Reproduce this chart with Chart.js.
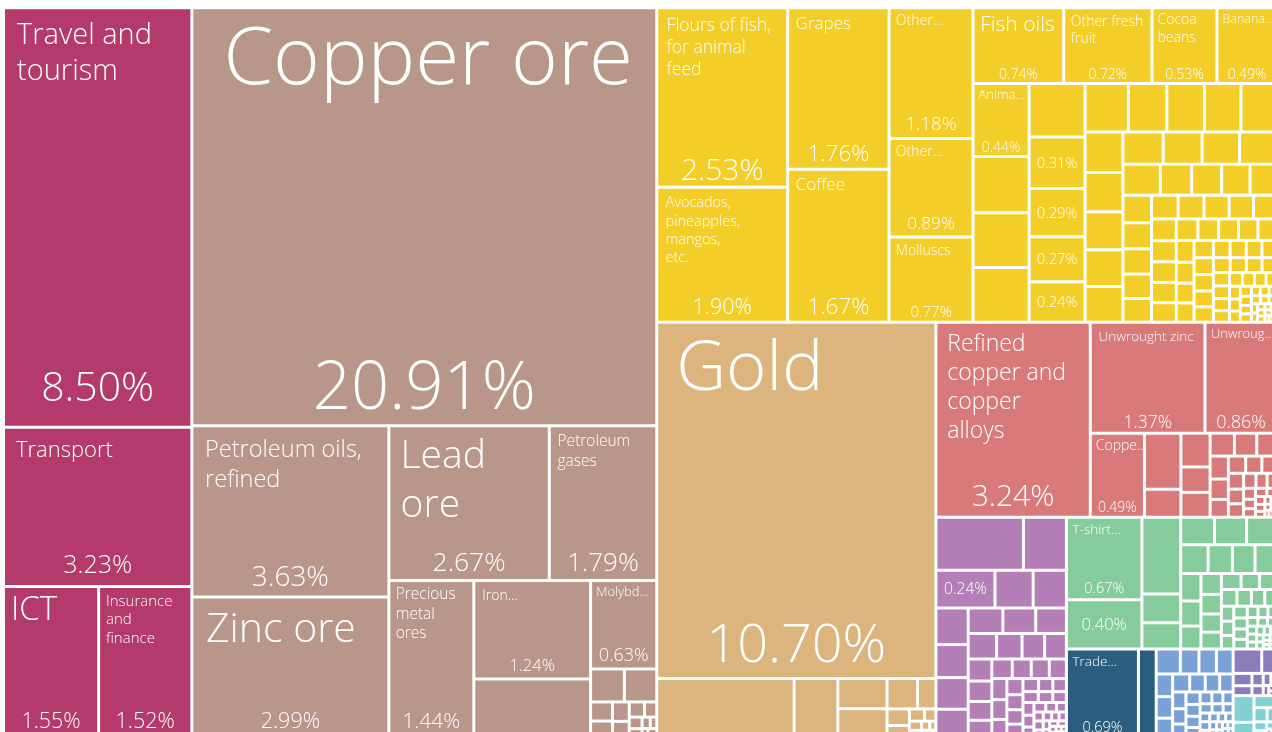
<!DOCTYPE html>
<html>
<head>
<meta charset="utf-8">
<script src="https://cdn.jsdelivr.net/npm/chart.js@4.4.1/dist/chart.umd.min.js"></script>
<style>
  html, body { margin: 0; padding: 0; background: #ffffff; }
  #wrap { width: 1272px; height: 732px; position: relative; }
</style>
</head>
<body>
<div id="wrap"><canvas id="c"></canvas></div>
<script>
// ---------------- DATA (share of exports, %) ----------------
const servicesNames = ['Travel and tourism', 'Transport', 'ICT', 'Insurance and finance'];
const servicesValues = [8.50, 3.23, 1.55, 1.52];

const mineralNames = ['Copper ore', 'Petroleum oils, refined', 'Zinc ore', 'Lead ore', 'Petroleum gases',
  'Precious metal ores', 'Iron...', null, 'Molybd...'];
const mineralValues = [20.91, 3.63, 2.99, 2.67, 1.79, 1.44, 1.24, 0.74, 0.63,
  0.12, 0.115, 0.045, 0.04, 0.035, 0.03, 0.025, 0.02, 0.016, 0.013, 0.01, 0.008, 0.006, 0.005, 0.004];

const foodNames = ['Flours of fish, for animal feed', 'Avocados, pineapples, mangos, etc.', 'Grapes', 'Coffee',
  'Other...', 'Other...', 'Molluscs', 'Fish oils', 'Other fresh fruit', 'Cocoa beans', 'Banana...', 'Anima...',
  null, null, null, null, '', '', '', ''];
const foodValues = [2.53, 1.90, 1.76, 1.67, 1.18, 0.89, 0.77, 0.74, 0.72, 0.53, 0.49, 0.44,
  0.34, 0.33, 0.33, 0.322, 0.31, 0.29, 0.27, 0.244,
  0.225, 0.2, 0.195, 0.19, 0.187, 0.165, 0.16, 0.155, 0.15, 0.145, 0.14, 0.135, 0.13, 0.13,
  0.125, 0.105, 0.10, 0.095, 0.09, 0.085, 0.08, 0.078, 0.075, 0.073, 0.068, 0.066, 0.064, 0.062, 0.06,
  0.058, 0.056, 0.055, 0.054, 0.052, 0.05, 0.048, 0.046, 0.045, 0.044, 0.042, 0.04,
  0.038, 0.037, 0.036, 0.035, 0.034, 0.033, 0.032, 0.031, 0.03, 0.029, 0.028, 0.027, 0.026, 0.025,
  0.024, 0.023, 0.022, 0.021, 0.02, 0.019, 0.018, 0.017, 0.016, 0.015, 0.014, 0.013, 0.012, 0.011,
  0.01, 0.01, 0.009, 0.009, 0.008, 0.008, 0.007, 0.007, 0.006, 0.006, 0.005, 0.005, 0.005,
  0.004, 0.004, 0.004, 0.003, 0.003, 0.003, 0.003];

const preciousNames = ['Gold'];
const preciousValues = [10.70, 0.88, 0.28, 0.16, 0.155, 0.1, 0.06, 0.04, 0.03, 0.02, 0.015, 0.012,
  0.01, 0.008, 0.006, 0.005, 0.004, 0.003];

const metalsNames = ['Refined copper and copper alloys', 'Unwrought zinc', 'Unwroug...', 'Coppe...'];
const metalsValues = [3.24, 1.37, 0.86, 0.49, 0.22, 0.11, 0.106, 0.08, 0.078, 0.06, 0.055, 0.05, 0.045,
  0.04, 0.035, 0.032, 0.03, 0.028, 0.026, 0.024, 0.022, 0.02, 0.018, 0.016, 0.014, 0.012, 0.011, 0.01,
  0.009, 0.008, 0.007, 0.006, 0.005, 0.005, 0.004, 0.004, 0.003, 0.003, 0.003];

const chemicalsNames = [null, null, ''];
const chemicalsValues = [0.50, 0.245, 0.24, 0.155, 0.135, 0.127, 0.115, 0.11, 0.1, 0.095, 0.09, 0.084,
  0.078, 0.07, 0.062, 0.06, 0.056, 0.052, 0.048, 0.045, 0.043, 0.04, 0.038, 0.036, 0.034, 0.032, 0.03,
  0.028, 0.026, 0.025, 0.024, 0.022, 0.02, 0.019, 0.018, 0.017, 0.016, 0.015, 0.014, 0.013, 0.012,
  0.011, 0.01, 0.009, 0.009, 0.008, 0.008, 0.007, 0.007, 0.006, 0.006, 0.005, 0.005, 0.004, 0.004,
  0.003, 0.003, 0.003, 0.002, 0.002];

const textilesNames = ['T-shirt...', ''];
const textilesValues = [0.67, 0.40, 0.32, 0.12, 0.11, 0.10, 0.095, 0.09, 0.085, 0.075, 0.07, 0.068,
  0.06, 0.055, 0.05, 0.046, 0.043, 0.04, 0.037, 0.034, 0.032, 0.03, 0.028, 0.026, 0.024, 0.022, 0.02,
  0.019, 0.018, 0.017, 0.016, 0.015, 0.014, 0.013, 0.012, 0.011, 0.01, 0.009, 0.009, 0.008, 0.008,
  0.007, 0.007, 0.006, 0.006, 0.005, 0.005, 0.004, 0.004, 0.003, 0.003, 0.003, 0.002, 0.002];

const tradeNames = ['Trade...', null];
const tradeValues = [0.69, 0.17];

const machineryValues = [0.065, 0.05, 0.047, 0.045, 0.04, 0.038, 0.035, 0.033, 0.03, 0.028, 0.026,
  0.024, 0.022, 0.02, 0.019, 0.018, 0.017, 0.016, 0.015, 0.014, 0.013, 0.012, 0.011, 0.01, 0.009,
  0.009, 0.008, 0.008, 0.007, 0.007, 0.006, 0.006, 0.005, 0.005, 0.004, 0.004, 0.003, 0.003, 0.003, 0.002];

const instrumentsValues = [0.075, 0.04, 0.025, 0.02, 0.015, 0.012, 0.01, 0.008, 0.006, 0.005, 0.004];
const plasticsValues = [0.06, 0.035, 0.03, 0.02, 0.015, 0.012, 0.01, 0.008, 0.005, 0.005];

// ---------------- STYLE ----------------
const FONT = '"Open Sans", "Noto Sans", sans-serif';
const WEIGHT = 300;
const groupColors = {
  services: '#B33A6B', mineral: '#B89689', food: '#F4CE28', precious: '#DBB47E', metals: '#D97A7A',
  chemicals: '#B47FB7', textiles: '#86CB9B', trade: '#2B5E7E', machinery: '#7AA2D6',
  instruments: '#8A7DBA', plastics: '#81D0D4'
};
// [name font px, share font px, share bottom offset px (optional), no-wrap flag (optional), wrap width factor (optional)]
const labelStyle = {
  'Travel and tourism': [29, 41, 25], 'Transport': [22, 25, 12], 'ICT': [33, 21.5, 9], 'Insurance and finance': [15, 21.5, 9],
  'Copper ore': [80, 67, 15, true], 'Petroleum oils, refined': [23.5, 28, 9], 'Zinc ore': [41, 21.5, 9],
  'Lead ore': [39, 26.5, 8], 'Petroleum gases': [15.5, 26, 8], 'Precious metal ores': [15.5, 21, 9],
  'Iron...': [14, 16.5], 'Molybd...': [13, 18],
  'Flours of fish, for animal feed': [17.5, 30, 6], 'Avocados, pineapples, mangos, etc.': [14.5, 21.5, 7, false, 0.6],
  'Grapes': [17, 22.5, 7], 'Coffee': [17, 22.5, 7], 'Other...': [14, null], 'Molluscs': [14, 15, 4],
  'Fish oils': [21, 14, 3, true], 'Other fresh fruit': [14, 14, 3], 'Cocoa beans': [14, 14, 3], 'Banana...': [12.5, 14, 3],
  'Anima...': [13, 14, 3], 'Gold': [69, 54, 15], 'Refined copper and copper alloys': [23, 30, 10],
  'Unwrought zinc': [13.5, 17.5, 4], 'Unwroug...': [13, 18, 4], 'Coppe...': [14, 14, 4],
  'T-shirt...': [13.5, 14.5, 5], 'Trade...': [13.5, 14.5, 5]
};
// treemap frame in data units of the (hidden) linear scales
const FRAME = { x0: 3.5, y0: 7.8, x1: 1277, y1: 738 };
const GAP = 3;

// ---------------- LAYOUT (squarified, ratio 1) ----------------
function sum(a) { return a.reduce((s, v) => s + (v || 0), 0); }
function squarify(values, x0, y0, x1, y1) {
  const n = values.length, rects = new Array(n);
  let value = sum(values), i0 = 0, i1 = 0;
  while (i0 < n) {
    const dx = x1 - x0, dy = y1 - y0;
    let sumValue, minValue, maxValue;
    do sumValue = values[i1++]; while (!sumValue && i1 < n);
    minValue = maxValue = sumValue;
    const alpha = Math.max(dy / dx, dx / dy) / value;
    let beta = sumValue * sumValue * alpha;
    let minRatio = Math.max(maxValue / beta, beta / minValue);
    for (; i1 < n; ++i1) {
      const nv = values[i1];
      sumValue += nv;
      if (nv < minValue) minValue = nv;
      if (nv > maxValue) maxValue = nv;
      beta = sumValue * sumValue * alpha;
      const newRatio = Math.max(maxValue / beta, beta / minValue);
      if (newRatio > minRatio) { sumValue -= nv; break; }
      minRatio = newRatio;
    }
    if (dx < dy) {
      const ny = value ? y0 + dy * sumValue / value : y1;
      let x = x0; const k = (x1 - x0) / sumValue;
      for (let i = i0; i < i1; i++) { const w = values[i] * k; rects[i] = [x, y0, x + w, ny]; x += w; }
      y0 = ny;
    } else {
      const nx = value ? x0 + dx * sumValue / value : x1;
      let y = y0; const k = (y1 - y0) / sumValue;
      for (let i = i0; i < i1; i++) { const h = values[i] * k; rects[i] = [x0, y, nx, y + h]; y += h; }
      x0 = nx;
    }
    value -= sumValue; i0 = i1;
  }
  return rects;
}
function computeLayout(chart) {
  const ds = chart.data.datasets;
  const groups = ds.map((d, i) => ({ i, total: sum(d.data), section: d.section }));
  const sections = [
    groups.filter(g => g.section === 'services'),
    groups.filter(g => g.section !== 'services').sort((a, b) => b.total - a.total)
  ];
  const secRects = squarify(sections.map(s => sum(s.map(g => g.total))), FRAME.x0, FRAME.y0, FRAME.x1, FRAME.y1);
  const out = [];
  sections.forEach((sec, k) => {
    const r = secRects[k];
    const gRects = squarify(sec.map(g => g.total), r[0], r[1], r[2], r[3]);
    sec.forEach((g, j) => {
      const vals = ds[g.i].data;
      const order = vals.map((v, idx) => idx).sort((a, b) => vals[b] - vals[a]);
      const rr = squarify(order.map(idx => vals[idx]), ...gRects[j]);
      const rects = new Array(vals.length);
      order.forEach((idx, m) => { rects[idx] = rr[m]; });
      out[g.i] = rects;
    });
  });
  return out;
}
function wrapText(ctx, text, maxW) {
  const words = text.split(' ');
  const lines = []; let cur = '';
  words.forEach(w => {
    const t = cur ? cur + ' ' + w : w;
    if (cur && ctx.measureText(t).width > maxW) { lines.push(cur); cur = w; } else cur = t;
  });
  if (cur) lines.push(cur);
  return lines;
}

// ---------------- CHART.JS TREEMAP CONTROLLER ----------------
class TreemapController extends Chart.DatasetController {
  update(mode) {
    const meta = this._cachedMeta;
    const ds = this.getDataset();
    const rects = computeLayout(this.chart)[this.index] || [];
    const xS = meta.xScale, yS = meta.yScale;
    this._cells = [];
    meta.data.forEach((el, i) => {
      const r = rects[i];
      let l = 0, t = 0, rt = 0, b = 0;
      if (r) {
        l = xS.getPixelForValue(r[0]) + GAP / 2;
        rt = xS.getPixelForValue(r[2]) - GAP / 2;
        t = yS.getPixelForValue(r[1]) + GAP / 2;
        b = yS.getPixelForValue(r[3]) - GAP / 2;
        if (rt < l) rt = l;
        if (b < t) b = t;
      }
      this._cells[i] = { x: l, y: t, w: rt - l, h: b - t };
      this.updateElement(el, i, {
        x: (l + rt) / 2, y: t, base: b, width: rt - l, height: b - t,
        horizontal: false, inflateAmount: 0, borderSkipped: {}, enableBorderRadius: false,
        options: { backgroundColor: ds.backgroundColor, borderColor: ds.backgroundColor, borderWidth: 0,
          borderSkipped: false, borderRadius: 0, inflateAmount: 0 }
      }, 'none');
    });
  }
  draw() {
    const ctx = this.chart.ctx;
    const meta = this._cachedMeta;
    const ds = this.getDataset();
    meta.data.forEach(el => { if (el.width > 0.4 && el.height > 0.4) el.draw(ctx); });
    const names = ds.names || [];
    ctx.save();
    ctx.fillStyle = '#ffffff';
    (this._cells || []).forEach((c, i) => {
      const name = names[i];
      if (name === undefined || name === null) return;
      const pct = ds.data[i].toFixed(2) + '%';
      if (name === '') {
        const fs = Math.min(0.28 * c.w, 0.45 * c.h, 16.5);
        ctx.font = `${WEIGHT} ${fs}px ${FONT}`;
        ctx.textAlign = 'center'; ctx.textBaseline = 'middle';
        ctx.fillText(pct, c.x + c.w / 2, c.y + c.h / 2 + fs * 0.05);
        return;
      }
      const st = labelStyle[name] || [12, null];
      const nf = st[0];
      const pf = st[1] || Math.min(0.23 * c.w, 0.18 * c.h);
      const pb = st[2] !== undefined ? st[2] : 0.2 * pf + 3;
      const padX = Math.max(4, Math.min(0.065 * c.w, 0.5 * nf));
      const padY = Math.min(padX, 12);
      ctx.font = `${WEIGHT} ${nf}px ${FONT}`;
      ctx.textAlign = 'left'; ctx.textBaseline = 'alphabetic';
      const wrapW = st[4] ? c.w * st[4] : c.w - 2 * padX;
      const lines = st[3] ? [name] : wrapText(ctx, name, wrapW);
      lines.forEach((ln, k) => ctx.fillText(ln, c.x + padX, c.y + padY + 0.78 * nf + k * 1.25 * nf));
      ctx.font = `${WEIGHT} ${pf}px ${FONT}`;
      ctx.textAlign = 'center';
      ctx.fillText(pct, c.x + c.w / 2, c.y + c.h - pb);
    });
    ctx.restore();
  }
}
TreemapController.id = 'treemap';
TreemapController.defaults = { dataElementType: 'bar', datasetElementType: false };
Chart.register(TreemapController);

function ds(label, section, names, values, colorKey) {
  return { label, section, names, data: values, backgroundColor: groupColors[colorKey] };
}

new Chart(document.getElementById('c'), {
  type: 'treemap',
  data: {
    datasets: [
      ds('Services', 'services', servicesNames, servicesValues, 'services'),
      ds('Mineral Products', 'goods', mineralNames, mineralValues, 'mineral'),
      ds('Foodstuffs', 'goods', foodNames, foodValues, 'food'),
      ds('Precious Metals', 'goods', preciousNames, preciousValues, 'precious'),
      ds('Metals', 'goods', metalsNames, metalsValues, 'metals'),
      ds('Chemical Products', 'goods', chemicalsNames, chemicalsValues, 'chemicals'),
      ds('Textiles', 'goods', textilesNames, textilesValues, 'textiles'),
      ds('Trade', 'goods', tradeNames, tradeValues, 'trade'),
      ds('Machines', 'goods', [], machineryValues, 'machinery'),
      ds('Instruments', 'goods', [], instrumentsValues, 'instruments'),
      ds('Plastics', 'goods', [], plasticsValues, 'plastics')
    ]
  },
  options: {
    responsive: true,
    maintainAspectRatio: false,
    animation: false,
    events: [],
    layout: { padding: 0 },
    plugins: { legend: { display: false }, tooltip: { enabled: false } },
    scales: {
      x: { type: 'linear', min: 0, max: 1272, display: false },
      y: { type: 'linear', min: 0, max: 732, reverse: true, display: false }
    }
  }
});
</script>
</body>
</html>
